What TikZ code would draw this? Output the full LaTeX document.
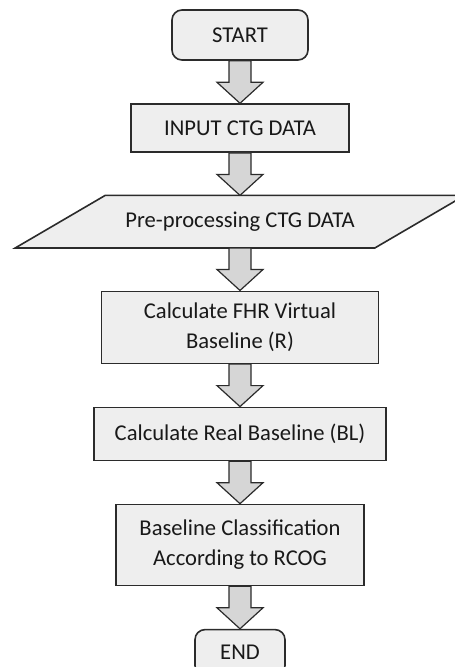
\documentclass[tikz,border=0pt]{standalone}
\usepackage{fontspec}
\setmainfont{Carlito}
\usetikzlibrary{shapes,arrows}
\usetikzlibrary{shapes.geometric}
\usetikzlibrary{backgrounds,positioning,calc}
\definecolor{boxfill}{HTML}{EEEEEE}
\definecolor{arrowfill}{HTML}{D6D6D6}
\definecolor{edgegray}{HTML}{2B2B2B}
\tikzstyle{block} = [rectangle, draw=edgegray, line width=1.6pt, fill=boxfill, 
align=center, text=black!90, font=\fontsize{22.6}{30}\selectfont]
\tikzstyle{term} = [block, rounded corners=10pt]
\tikzstyle{io} = [block, draw=none, fill=none]
\tikzstyle{slant} = [draw=edgegray, line width=1.6pt, fill=boxfill]
\tikzstyle{fat} = [draw=edgegray, line width=1.2pt, fill=arrowfill, line join=miter]
\newcommand{\fatarrow}[2]{%
	\draw[fat] ($(#1.south)+(-11pt,0)$) -- ($(#1.south)+(11pt,0)$) -- ($(#2.north)+(11pt,21pt)$) 
	-- ($(#2.north)+(23pt,21pt)$) -- (#2.north) -- ($(#2.north)+(-23pt,21pt)$) 
	-- ($(#2.north)+(-11pt,21pt)$) -- cycle;}

\begin{document}
\begin{tikzpicture}[node distance = 42.5pt]
	
	\useasboundingbox (0,0) rectangle (455pt,-667pt);
	
	\node [term, minimum width=136pt, minimum height=50pt] (start) at (240pt,-35pt) {START};
	\node [block, below=of start, minimum width=218pt, minimum height=48pt] (input) {INPUT CTG DATA};
	\node [io, below=of input, minimum width=358pt, minimum height=51pt] (prep) {Pre-processing CTG DATA};
	\node [block, below=of prep, minimum width=277pt, minimum height=72pt] (virt) {Calculate FHR Virtual\\Baseline (R)};
	\node [block, below=of virt, minimum width=292pt, minimum height=53pt] (real) {Calculate Real Baseline (BL)};
	\node [block, below=of real, minimum width=248pt, minimum height=81pt] (class) {Baseline Classification\\According to RCOG};
	\node [term, below=of class, minimum width=90pt, minimum height=46pt] (stop) {END};
	
	% parallelogram behind the pre-processing text
	\begin{pgfonlayer}{background}
		\draw [slant] ($(prep.north west)+(45pt,0)$) -- ($(prep.north east)+(45pt,0)$) 
		-- ($(prep.south east)+(-45pt,0)$) -- ($(prep.south west)+(-45pt,0)$) -- cycle;
	\end{pgfonlayer}
	
	% Draw edges
	\fatarrow{start}{input}
	\fatarrow{input}{prep}
	\fatarrow{prep}{virt}
	\fatarrow{virt}{real}
	\fatarrow{real}{class}
	\fatarrow{class}{stop}
	
\end{tikzpicture}
\end{document}
